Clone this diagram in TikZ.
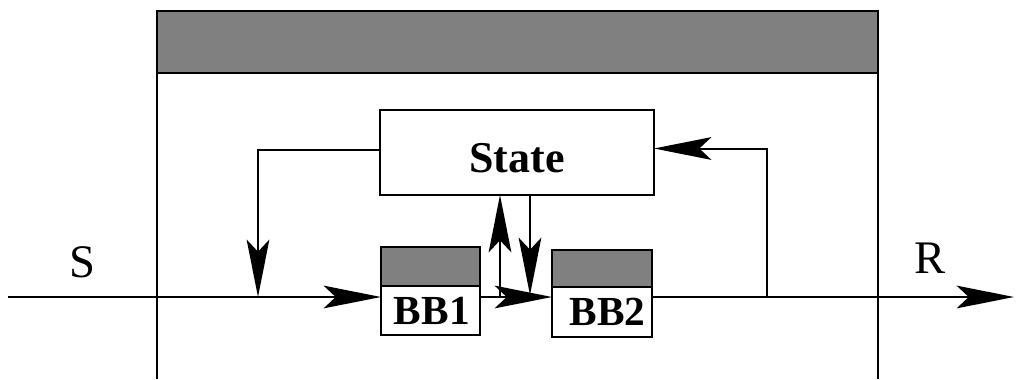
\documentclass[tikz,border=0pt]{standalone}
\usepackage{fontspec}
\setmainfont{Liberation Serif}
\usetikzlibrary{arrows.meta}
\definecolor{hdr}{RGB}{128,128,128}
\begin{document}
\begin{tikzpicture}[x=0.75pt,y=-0.75pt,line width=1.5pt,
  big/.style={-{Stealth[length=43pt,width=17pt,inset=9pt]}},
  box/.style={draw,inner sep=0pt,outer sep=0pt},
  shade/.style={box,fill=hdr},
  bbtext/.style={font=\fontsize{31}{31}\selectfont\bfseries},
  lbl/.style={font=\fontsize{35}{35}\selectfont}]
\useasboundingbox (0,0) rectangle (1016,379);
% outer container
\draw (157,379) -- (157,11) -- (878,11) -- (878,379);
\node[shade,minimum width=540.75pt,minimum height=46.5pt] (hdr) at (517.5,42) {};
% state
\node[box,fill=white,minimum width=205.5pt,minimum height=63.75pt,
      font=\fontsize{33}{33}\selectfont\bfseries,text height=30pt] (state) at (517,152.5) {State};
% BB1
\node[shade,minimum width=74.25pt,minimum height=29.25pt] (bb1top) at (430.5,266.5) {};
\node[box,fill=white,minimum width=74.25pt,minimum height=36.75pt,bbtext] (bb1) at (430.5,310.5) {\hspace{2pt}BB1};
% BB2
\node[shade,minimum width=75pt,minimum height=27.75pt] (bb2top) at (602,268.5) {};
\node[box,fill=white,minimum width=75pt,minimum height=37.5pt,bbtext] (bb2) at (602,312) {\hspace{8pt}BB2};
% labels
\node[lbl] (S) at (82,262) {S};
\node[lbl] (R) at (930,258) {R};
% coordinates
\coordinate (in) at (8,297);
\coordinate (out) at (1014,297);
\coordinate (lk) at (258,297);
\coordinate (rk) at (767,297);
\coordinate (u1) at (500,297);
\coordinate (d1) at (530,297);
% connectors
\draw[big] (in) -- (in -| bb1.west);
\draw[big] (bb1.east |- in) -- (bb2.west |- in);
\draw[big] (bb2.east |- in) -- (out);
\draw[big] ([yshift=2pt]state.west) -| (lk);
\draw[big] (rk) |- ([yshift=3pt]state.east);
\draw[big] (u1) -- (u1 |- state.south);
\draw[big] (d1 |- state.south) -- ([yshift=1.5pt]d1);
\end{tikzpicture}
\end{document}
